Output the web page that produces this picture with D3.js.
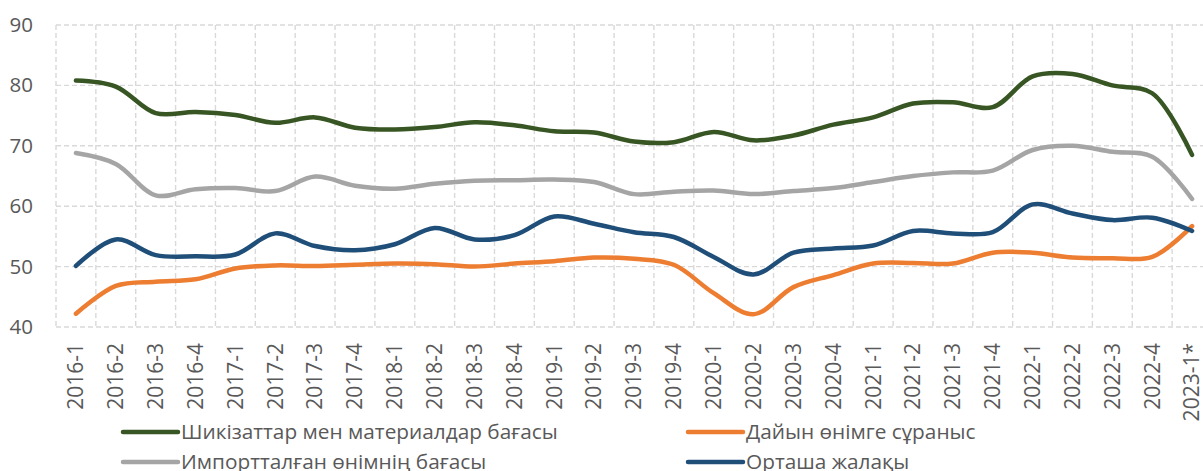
<!DOCTYPE html>
<html>
<head>
<meta charset="utf-8">
<script src="https://cdn.jsdelivr.net/npm/d3@7"></script>
<style>
  body { margin: 0; background: #fff; }
  svg { display: block; font-family: "Open Sans", sans-serif; }
</style>
</head>
<body>
<svg id="chart"></svg>
<script>
// Categories (quarters)
const categories = [
  "2016-1", "2016-2", "2016-3", "2016-4",
  "2017-1", "2017-2", "2017-3", "2017-4",
  "2018-1", "2018-2", "2018-3", "2018-4",
  "2019-1", "2019-2", "2019-3", "2019-4",
  "2020-1", "2020-2", "2020-3", "2020-4",
  "2021-1", "2021-2", "2021-3", "2021-4",
  "2022-1", "2022-2", "2022-3", "2022-4",
  "2023-1*"
];

// Series values
const rawMaterials = [80.8, 79.8, 75.4, 75.6, 75.1, 73.8, 74.7, 73.0, 72.7, 73.1, 73.9, 73.4, 72.4, 72.2,
  70.7, 70.6, 72.3, 70.9, 71.7, 73.5, 74.7, 77.0, 77.2, 76.4, 81.5, 81.9, 80.0, 78.7, 68.5];
const demand = [42.2, 46.8, 47.5, 47.9, 49.7, 50.2, 50.1, 50.3, 50.5, 50.4, 50.0, 50.5, 50.9, 51.5,
  51.3, 50.3, 45.6, 42.1, 46.6, 48.6, 50.5, 50.6, 50.5, 52.3, 52.3, 51.5, 51.4, 51.6, 56.7];
const importPrice = [68.8, 67.0, 61.8, 62.8, 63.0, 62.5, 64.9, 63.4, 62.9, 63.7, 64.2, 64.3, 64.4, 64.0,
  62.0, 62.4, 62.6, 62.0, 62.5, 63.0, 64.0, 65.0, 65.6, 65.9, 69.3, 70.0, 69.0, 68.2, 61.2];
const wages = [50.1, 54.5, 51.9, 51.7, 52.0, 55.5, 53.4, 52.7, 53.7, 56.4, 54.5, 55.2, 58.3, 57.1,
  55.7, 54.9, 51.6, 48.7, 52.3, 53.0, 53.5, 55.9, 55.5, 55.7, 60.3, 58.8, 57.7, 58.1, 55.9];

const seriesNames = [
  "Шикізаттар мен материалдар бағасы",
  "Дайын өнімге сұраныс",
  "Импортталған өнімнің бағасы",
  "Орташа жалақы"
];
const seriesValues = [rawMaterials, demand, importPrice, wages];
const seriesColors = ["#375623", "#ED7D31", "#A5A5A5", "#1F4E79"];

const yTicks = [40, 50, 60, 70, 80, 90];

// Layout
const W = 1203, H = 471;
const plot = { left: 56, right: 1212, top: 25, bottom: 327 };
const textColor = "#595959";
const gridColor = "#d9d9d9";

const svg = d3.select("#chart").attr("width", W).attr("height", H);

const x = d3.scaleBand().domain(categories).range([plot.left, plot.right]);
const y = d3.scaleLinear().domain([40, 90]).range([plot.bottom, plot.top]);

// Grid lines
const grid = svg.append("g").attr("class", "grid")
  .attr("stroke", gridColor).attr("stroke-width", 1.4).attr("stroke-dasharray", "5,3");

grid.selectAll(".hgrid")
  .data(yTicks)
  .join("line")
  .attr("class", "hgrid")
  .attr("x1", plot.left).attr("x2", plot.right)
  .attr("y1", d => y(d)).attr("y2", d => y(d));

const bounds = categories.map(c => x(c)).concat([x(categories[categories.length - 1]) + x.bandwidth()]);
grid.selectAll(".vgrid")
  .data(bounds)
  .join("line")
  .attr("class", "vgrid")
  .attr("x1", d => d).attr("x2", d => d)
  .attr("y1", plot.top).attr("y2", plot.bottom);

// Y axis
const gy = svg.append("g")
  .attr("transform", `translate(${plot.left},0)`)
  .call(d3.axisLeft(y).tickValues(yTicks).tickSize(0).tickPadding(23));
gy.select(".domain").remove();
gy.selectAll("text")
  .attr("fill", textColor)
  .style("font-size", "20.5px")
  .style("font-family", "'Open Sans', sans-serif");

// X axis
const gx = svg.append("g")
  .attr("transform", `translate(0,${plot.bottom})`)
  .call(d3.axisBottom(x).tickSize(0));
gx.select(".domain").remove();
gx.selectAll("text")
  .attr("fill", textColor)
  .style("font-size", "21px")
  .style("font-family", "'Open Sans', sans-serif")
  .attr("transform", "rotate(-90)")
  .attr("text-anchor", "end")
  .attr("x", -16)
  .attr("y", 0)
  .attr("dy", "0.35em");

// Lines
const line = d3.line()
  .x((d, i) => x(categories[i]) + x.bandwidth() / 2)
  .y(d => y(d))
  .curve(d3.curveCatmullRom.alpha(0.5));

svg.append("g").selectAll("path")
  .data(seriesValues)
  .join("path")
  .attr("d", d => line(d))
  .attr("fill", "none")
  .attr("stroke", (d, i) => seriesColors[i])
  .attr("stroke-width", 4.5)
  .attr("stroke-linecap", "round")
  .attr("stroke-linejoin", "round");

// Legend
const legendPos = [
  { x: 123, y: 432 }, { x: 688, y: 432 },
  { x: 123, y: 462 }, { x: 688, y: 462 }
];
const legend = svg.append("g").selectAll("g")
  .data(seriesNames)
  .join("g")
  .attr("transform", (d, i) => `translate(${legendPos[i].x},${legendPos[i].y})`);

legend.append("line")
  .attr("x1", 0).attr("x2", 55)
  .attr("stroke", (d, i) => seriesColors[i])
  .attr("stroke-width", 4.5)
  .attr("stroke-linecap", "round");

legend.append("text")
  .attr("x", 58)
  .attr("dy", "0.35em")
  .attr("fill", textColor)
  .style("font-size", "20.8px")
  .text(d => d);
</script>
</body>
</html>
